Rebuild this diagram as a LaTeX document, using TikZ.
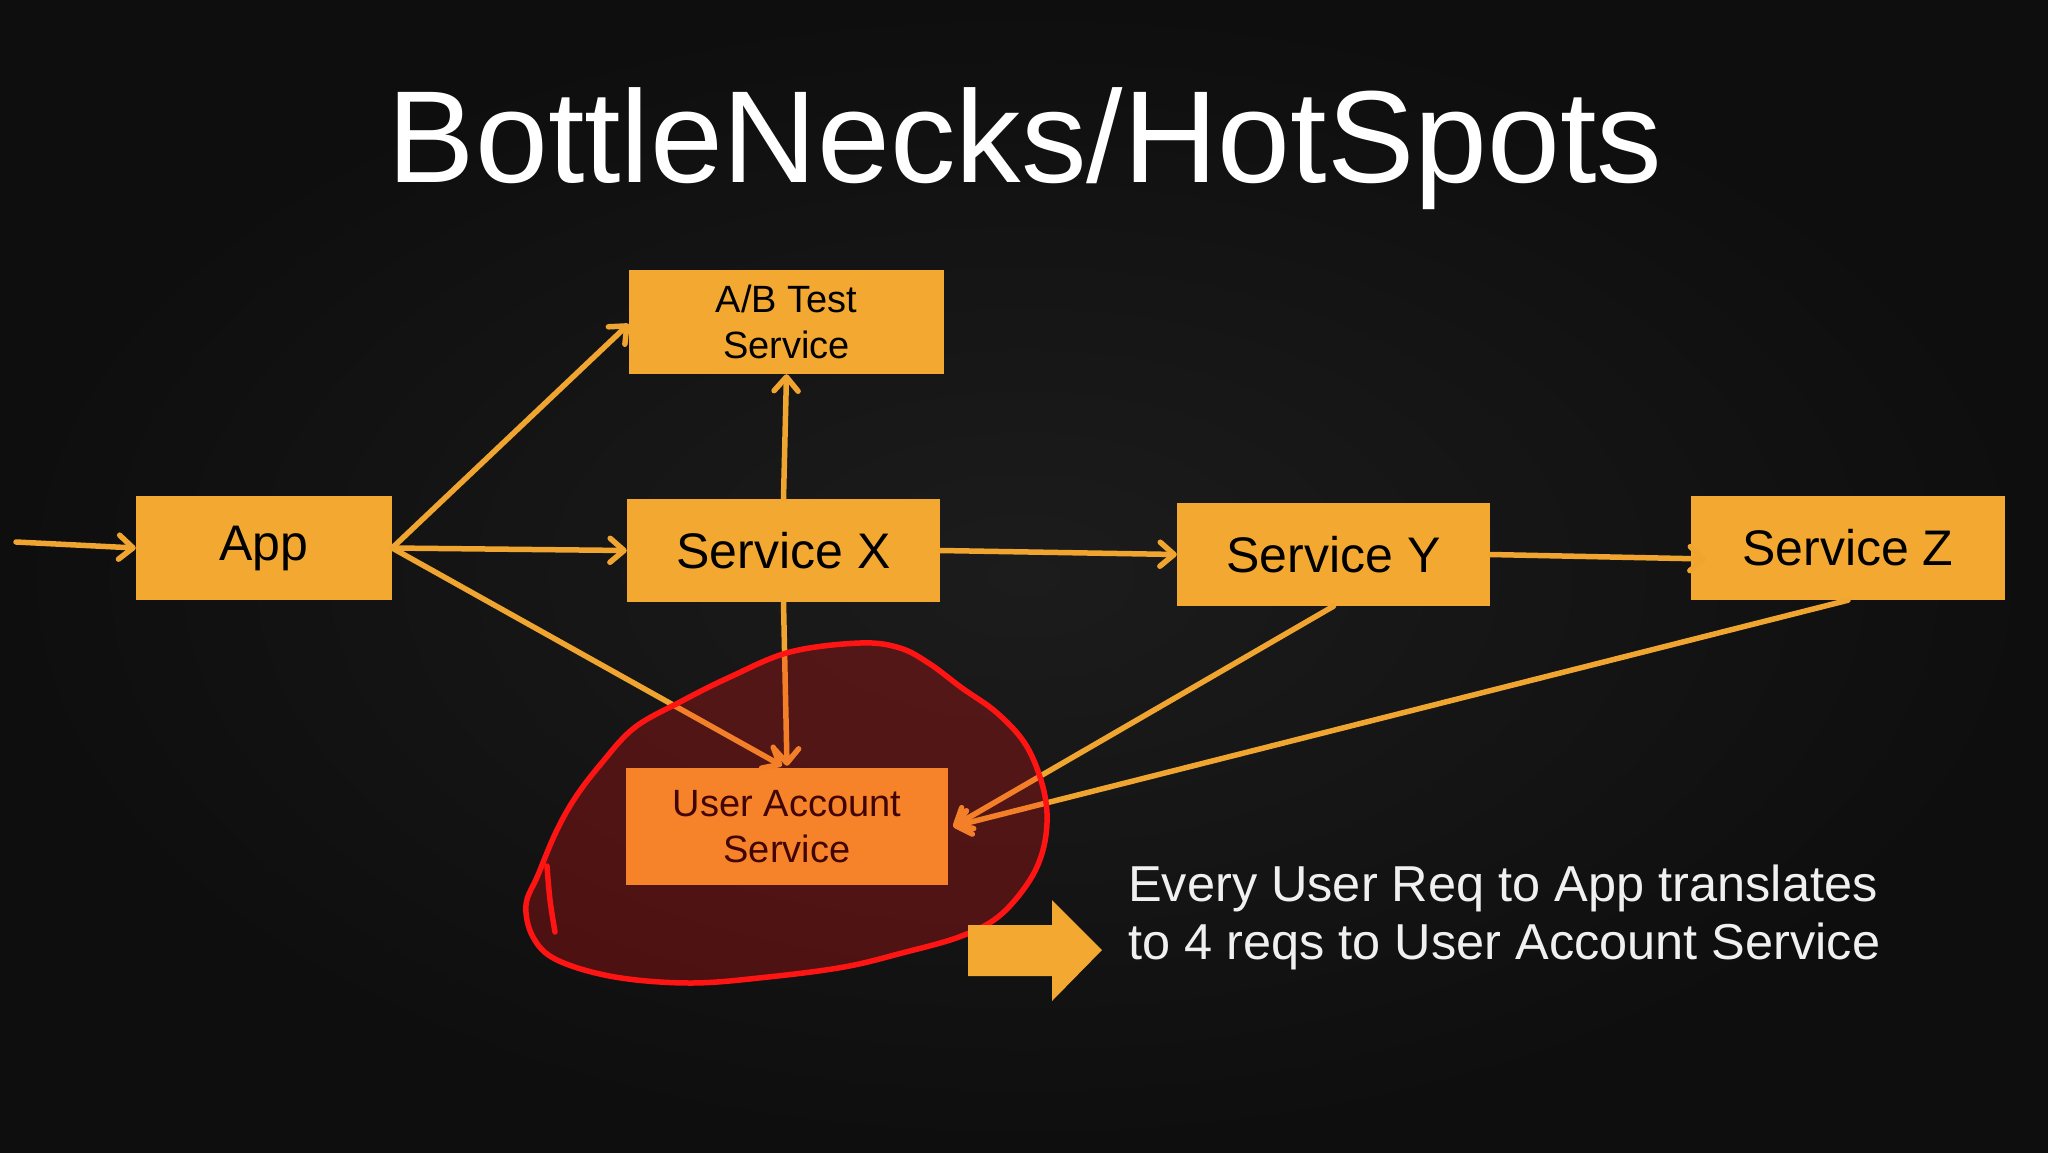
\documentclass[tikz,border=0pt]{standalone}
\usepackage{fontspec}
\setmainfont{Liberation Sans}
\usetikzlibrary{arrows.meta,calc}
\definecolor{boxorange}{HTML}{F3A931}
\definecolor{arroworange}{HTML}{EFA52F}
\definecolor{bgdark}{HTML}{0E0E0E}
\definecolor{bgmid}{HTML}{1C1C1C}
\definecolor{penred}{HTML}{FF1414}
\begin{document}
\begin{tikzpicture}[x=1pt,y=-1pt,
  svcbox/.style={fill=boxorange, draw=none, inner sep=0pt, text=black, align=center},
  bigtxt/.style={font=\fontsize{50}{56}\selectfont},
  smalltxt/.style={font=\fontsize{38}{46}\selectfont},
  conn/.style={draw=arroworange, line width=5.5pt, line cap=round, -{Straight Barb[length=14pt,width=24pt,round]}},
]
\useasboundingbox (0,0) rectangle (2048,1152);
\fill[bgdark] (0,0) rectangle (2048,1152);
\shade[inner color=bgmid, outer color=bgdark] (0,0) rectangle (2048,1152);

% title
\node[anchor=base, text=white, font=\fontsize{131}{140}\selectfont, inner sep=0pt] (title) at (1025,182) {BottleNecks/HotSpots};

% boxes
\node[svcbox, smalltxt, minimum width=315, minimum height=104] (AB) at (786.5,322) {A/B Test\\Service};
\node[svcbox, bigtxt, minimum width=256, minimum height=104] (App) at (264,548) {App};
\node[svcbox, bigtxt, minimum width=313, minimum height=103] (SX) at (783.5,550.5) {Service X};
\node[svcbox, bigtxt, minimum width=313, minimum height=103] (SY) at (1333.5,554.5) {Service Y};
\node[svcbox, bigtxt, minimum width=314, minimum height=104] (SZ) at (1848,548) {Service Z};
\node[svcbox, smalltxt, minimum width=322, minimum height=117] (UAS) at (787,826.5) {User Account\\Service};

% connectors
\coordinate (in) at (16,542);
\draw[conn] (in) -- (App.west);
\draw[conn] (App.east) -- ($(AB.west)+(0,2)$);
\draw[conn] (App.east) -- (SX.west);
\draw[conn] (App.east) -- ($(UAS.north)+(-5,-2)$);
\draw[conn] (SX.north) -- (AB.south);
\draw[conn] (SX.south) -- ($(UAS.north)+(0,-2)$);
\draw[conn] (SX.east) -- (SY.west);
\draw[conn] (SY.east) -- ($(SZ.west)+(16,11)$);
\draw[conn] (SY.south) -- ($(UAS.east)+(5,0)$);
\draw[conn] (SZ.south) -- ($(UAS.east)+(5,0)$);

% hand-drawn highlight
\fill[penred, opacity=0.26] plot[smooth cycle, tension=0.6] coordinates {
  (860,643) (900,648) (930,664) (962,688) (996,712) (1024,742) (1040,777)
  (1047,813) (1043,850) (1028,883) (998,917) (959,937) (902,953) (844,967)
  (768,977) (691,983) (615,977) (557,960) (533,937) (526,905) (538,875)
  (556,832) (575,798) (600,765) (634,728) (680,702) (730,677) (790,652)};
\draw[penred, line width=5.5pt, line cap=round, line join=round] plot[smooth cycle, tension=0.6] coordinates {
  (860,643) (900,648) (930,664) (962,688) (996,712) (1024,742) (1040,777)
  (1047,813) (1043,850) (1028,883) (998,917) (959,937) (902,953) (844,967)
  (768,977) (691,983) (615,977) (557,960) (533,937) (526,905) (538,875)
  (556,832) (575,798) (600,765) (634,728) (680,702) (730,677) (790,652)};
\draw[penred, line width=5.5pt, line cap=round] plot[smooth, tension=0.6] coordinates {(547,866) (550,900) (555,932)};

% block arrow
\fill[boxorange] (968,925) -- (1052,925) -- (1052,900) -- (1102,950) -- (1052,1001) -- (1052,976) -- (968,976) -- cycle;

% note
\node[anchor=base west, text=white!94!black, font=\fontsize{50.5}{57}\selectfont, inner sep=0pt] (note1) at (1128,901) {Every User Req to App translates};
\node[anchor=base west, text=white!94!black, font=\fontsize{50.5}{57}\selectfont, inner sep=0pt] (note2) at (1128,959) {to 4 reqs to User Account Service};
\end{tikzpicture}
\end{document}
